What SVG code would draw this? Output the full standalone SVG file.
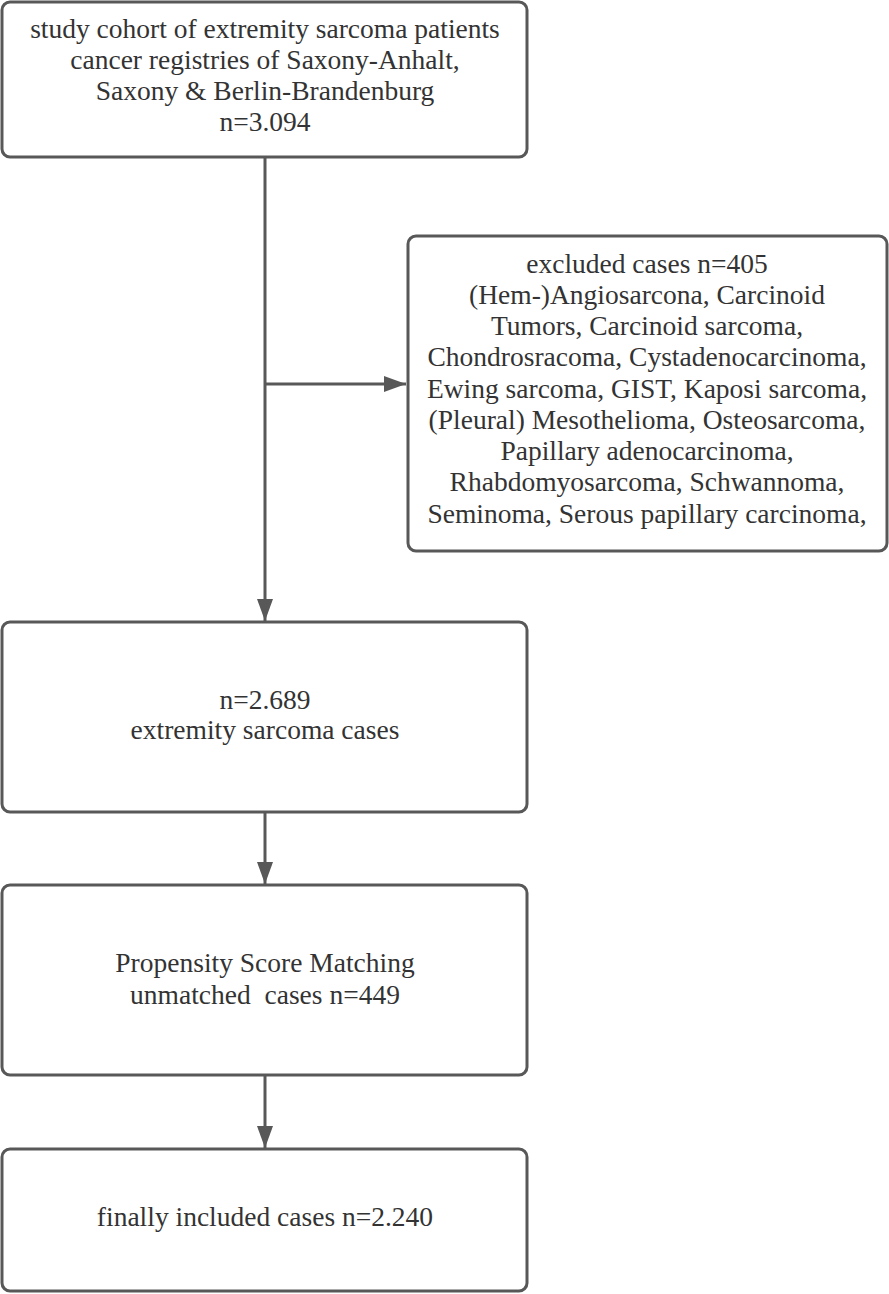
<svg xmlns="http://www.w3.org/2000/svg" width="889" height="1294" viewBox="0 0 889 1294">
<style>
.box{fill:#fff;stroke:#585858;stroke-width:3}
.t{font-family:"Liberation Serif","DejaVu Serif",serif;font-size:27.5px;fill:#333;text-anchor:middle;white-space:pre}
.c{stroke:#585858;stroke-width:3;fill:none}
</style>
<defs>
<marker id="ah" markerWidth="22" markerHeight="16" refX="22" refY="8" orient="auto" markerUnits="userSpaceOnUse">
<path d="M0,0 L22,8 L0,16 Z" fill="#585858"/>
</marker>
</defs>
<rect width="889" height="1294" fill="#fff"/>
<g id="connectors">
<line class="c" x1="265" y1="158" x2="265" y2="621" marker-end="url(#ah)"/>
<line class="c" x1="265" y1="384" x2="406" y2="384" marker-end="url(#ah)"/>
<line class="c" x1="265" y1="813" x2="265" y2="884" marker-end="url(#ah)"/>
<line class="c" x1="265" y1="1075" x2="265" y2="1148" marker-end="url(#ah)"/>
</g>
<g id="n1">
<rect class="box" x="2" y="2" width="525" height="155" rx="8"/>
<text class="t" x="265" y="38">study cohort of extremity sarcoma patients</text>
<text class="t" x="265" y="69">cancer registries of Saxony-Anhalt,</text>
<text class="t" x="265" y="100">Saxony &amp; Berlin-Brandenburg</text>
<text class="t" x="265" y="131">n=3.094</text>
</g>
<g id="n2">
<rect class="box" x="408" y="236" width="479" height="315" rx="8"/>
<text class="t" x="647" y="273">excluded cases n=405</text>
<text class="t" x="647" y="304">(Hem-)Angiosarcona, Carcinoid</text>
<text class="t" x="647" y="335">Tumors, Carcinoid sarcoma,</text>
<text class="t" x="647" y="366">Chondrosracoma, Cystadenocarcinoma,</text>
<text class="t" x="647" y="398">Ewing sarcoma, GIST, Kaposi sarcoma,</text>
<text class="t" x="647" y="429">(Pleural) Mesothelioma, Osteosarcoma,</text>
<text class="t" x="647" y="460">Papillary adenocarcinoma,</text>
<text class="t" x="647" y="491">Rhabdomyosarcoma, Schwannoma,</text>
<text class="t" x="647" y="523">Seminoma, Serous papillary carcinoma,</text>
</g>
<g id="n3">
<rect class="box" x="2" y="622" width="525" height="190" rx="8"/>
<text class="t" x="265" y="709">n=2.689</text>
<text class="t" x="265" y="739">extremity sarcoma cases</text>
</g>
<g id="n4">
<rect class="box" x="2" y="885" width="525" height="190" rx="8"/>
<text class="t" x="265" y="972">Propensity Score Matching</text>
<text class="t" x="265" y="1004">unmatched  cases n=449</text>
</g>
<g id="n5">
<rect class="box" x="2" y="1149" width="525" height="142" rx="8"/>
<text class="t" x="265" y="1226">finally included cases n=2.240</text>
</g>
</svg>
